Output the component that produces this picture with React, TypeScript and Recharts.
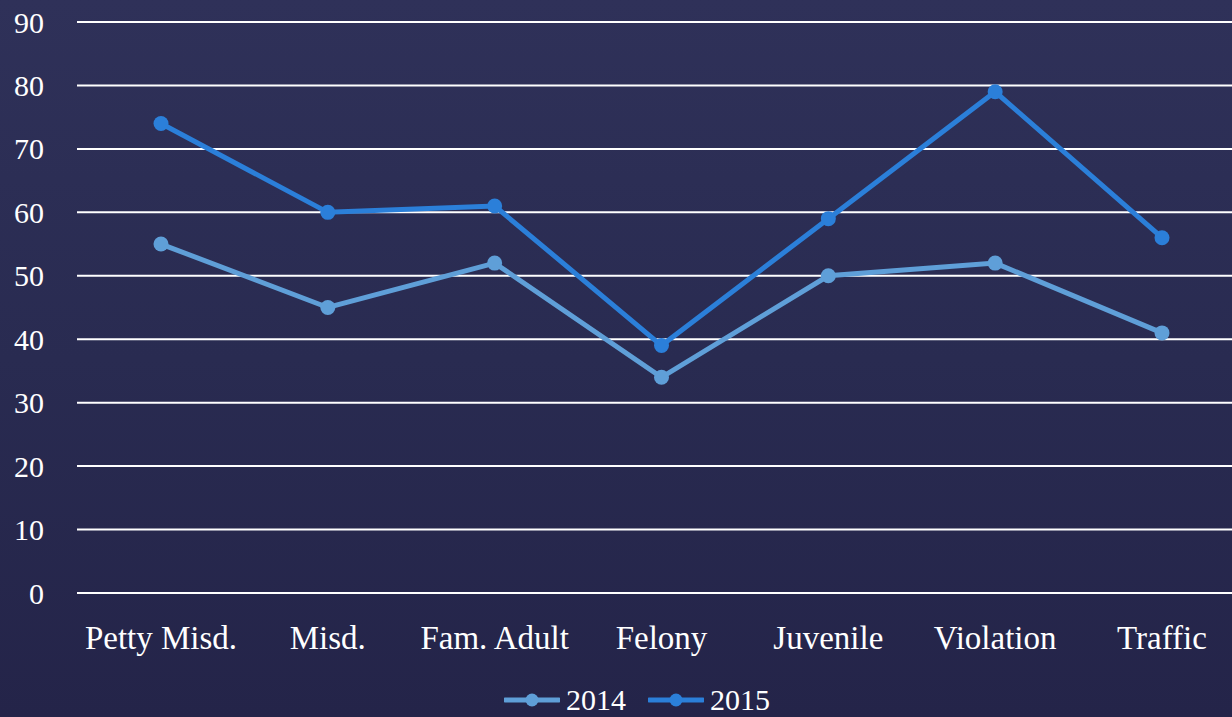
import React from "react";
import { LineChart, Line, XAxis, YAxis, CartesianGrid } from "recharts";

const categories = ["Petty Misd.", "Misd.", "Fam. Adult", "Felony", "Juvenile", "Violation", "Traffic"];
const series2014 = [55, 45, 52, 34, 50, 52, 41];
const series2015 = [74, 60, 61, 39, 59, 79, 56];
const yTicks = [0, 10, 20, 30, 40, 50, 60, 70, 80, 90];
const seriesNames = ["2014", "2015"];
const colors = ["#5f9fd8", "#2b7fd9"];

const data = categories.map((c, i) => ({ name: c, s2014: series2014[i], s2015: series2015[i] }));

const FONT = "'Liberation Serif', 'Times New Roman', serif";

const YTick = (props: any) => {
  const { y, payload } = props;
  return (
    <text x={44} y={y} textAnchor="end" dominantBaseline="central" fill="#ffffff" fontFamily={FONT} fontSize={30}>
      {payload.value}
    </text>
  );
};

const XTick = (props: any) => {
  const { x, payload } = props;
  return (
    <text x={x} y={649} textAnchor="middle" fill="#ffffff" fontFamily={FONT} fontSize={33}>
      {payload.value}
    </text>
  );
};

const LegendItem = ({ name, color }: { name: string; color: string }) => (
  <div style={{ display: "flex", alignItems: "center", marginRight: 22 }}>
    <svg width={56} height={16} style={{ marginRight: 6 }}>
      <line x1={1} y1={8} x2={55} y2={8} stroke={color} strokeWidth={5} strokeLinecap="round" />
      <circle cx={28} cy={8} r={6.5} fill={color} />
    </svg>
    <span style={{ color: "#fff", fontFamily: FONT, fontSize: 30, lineHeight: "24px" }}>{name}</span>
  </div>
);

export default function App() {
  return (
    <div
      style={{
        position: "absolute",
        left: 0,
        top: 0,
        width: 1232,
        height: 717,
        overflow: "hidden",
        background: "linear-gradient(180deg, #2f3159 0%, #292b51 50%, #242449 100%)",
      }}
    >
      <LineChart
        width={1250}
        height={717}
        data={data}
        margin={{ top: 22, right: 4, bottom: 0, left: 0 }}
      >
        <CartesianGrid vertical={false} stroke="#ffffff" strokeWidth={2} />
        <XAxis
          dataKey="name"
          axisLine={false}
          tickLine={false}
          height={124}
          tick={<XTick />}
          interval={0}
          padding={{ left: 84, right: 84 }}
        />
        <YAxis
          domain={[0, 90]}
          ticks={yTicks}
          axisLine={false}
          tickLine={false}
          width={77}
          tick={<YTick />}
          interval={0}
        />
        <Line
          dataKey="s2014"
          name={seriesNames[0]}
          stroke={colors[0]}
          strokeWidth={5}
          dot={{ r: 7.5, fill: colors[0], stroke: colors[0], strokeWidth: 0 }}
          isAnimationActive={false}
        />
        <Line
          dataKey="s2015"
          name={seriesNames[1]}
          stroke={colors[1]}
          strokeWidth={5}
          dot={{ r: 7.5, fill: colors[1], stroke: colors[1], strokeWidth: 0 }}
          isAnimationActive={false}
        />
      </LineChart>
      <div
        style={{
          position: "absolute",
          left: 504,
          top: 688,
          display: "flex",
          alignItems: "center",
        }}
      >
        <LegendItem name={seriesNames[0]} color={colors[0]} />
        <LegendItem name={seriesNames[1]} color={colors[1]} />
      </div>
    </div>
  );
}
